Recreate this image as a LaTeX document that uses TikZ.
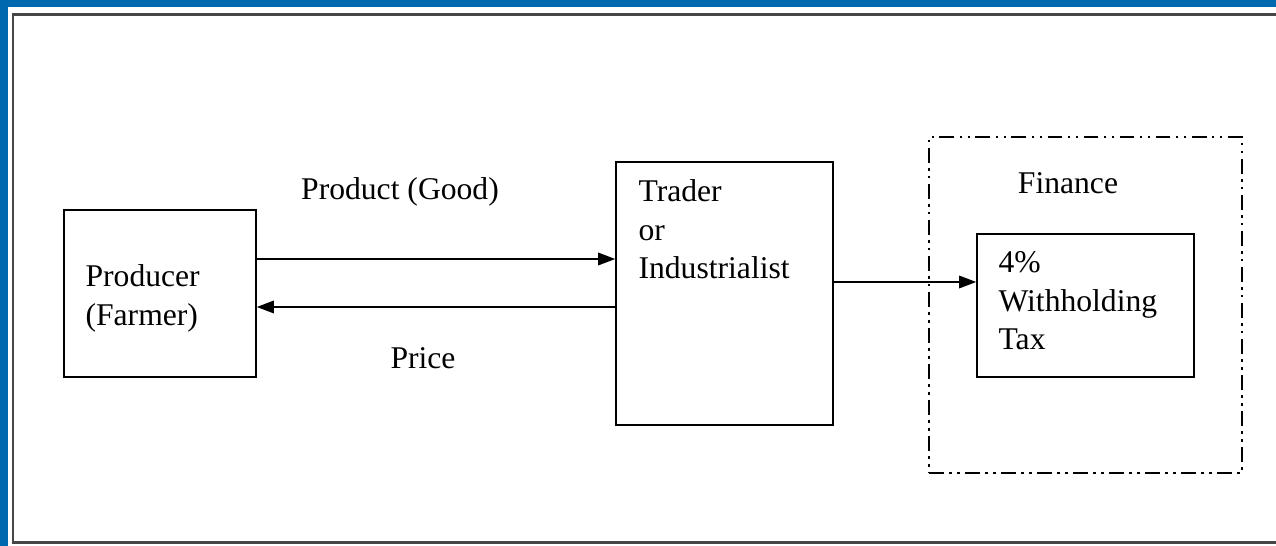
\documentclass[tikz,border=0pt]{standalone}
\usepackage{fontspec}
\setmainfont{Liberation Serif}
\usetikzlibrary{positioning}
\usetikzlibrary{arrows.meta}

\definecolor{frameblue}{RGB}{0,104,174}
\definecolor{framegray}{RGB}{70,70,70}

\tikzset{
    box/.style={draw, line width=0.9pt, inner sep=0pt},
    lbl/.style={font=\fontsize{18}{22}\selectfont, inner sep=0pt},
    arr/.style={line width=0.9pt, -{Triangle[length=0.34cm,width=0.25cm]}},
    dashdot box/.style={draw, line width=0.9pt, dash pattern={on 8.5pt off 3pt on 1.5pt off 3pt on 1.5pt off 3pt}}
}

\begin{document}
\begin{tikzpicture}[x=0.02cm, y=-0.02cm]

    \useasboundingbox (0,0) rectangle (1276,546);
    % page frame
    \fill[frameblue] (0,0) rectangle (1276,7);
    \fill[frameblue] (0,0) rectangle (8,546);
    \draw[framegray, line width=0.06cm] (1276,15) -- (13,15) -- (13,543) -- (1276,543);

    \node(producer)[box, minimum width=3.84cm, minimum height=3.34cm] at (160,293.5) {};
    \node(trader)[box, minimum width=4.34cm, minimum height=5.26cm] at (724.5,293.5) {};
    \node(finance)[dashdot box, minimum width=6.26cm, minimum height=6.72cm] at (1085.5,305) {};
    \node(tax)[box, minimum width=4.34cm, minimum height=2.86cm] at (1085.5,305.5) {};

    \node(producertext)[lbl, align=left, anchor=west] at ([xshift=0.44cm, yshift=-0.1cm]producer.west) {Producer\\(Farmer)};
    \node(tradertext)[lbl, align=left, anchor=north west] at ([xshift=0.46cm, yshift=-0.36cm]trader.north west) {Trader\\or\\Industrialist};
    \node(taxtext)[lbl, align=left, anchor=north west] at ([xshift=0.44cm, yshift=-0.36cm]tax.north west) {4\%\\Withholding\\Tax};
    \node(financetext)[lbl] at (1068,183) {Finance};

    \draw[arr] ([yshift=0.69cm]producer.east) -- ([yshift=0.69cm]trader.west);
    \draw[arr] ([yshift=-0.27cm]trader.west) -- ([yshift=-0.27cm]producer.east);
    \coordinate(taxin) at ([yshift=0.47cm]tax.west);
    \draw[arr] (trader.east |- taxin) -- (taxin);

    \node(product)[lbl] at (400,192) {Product (Good)};
    \node(price)[lbl] at (423,358) {Price};

\end{tikzpicture}
\end{document}
